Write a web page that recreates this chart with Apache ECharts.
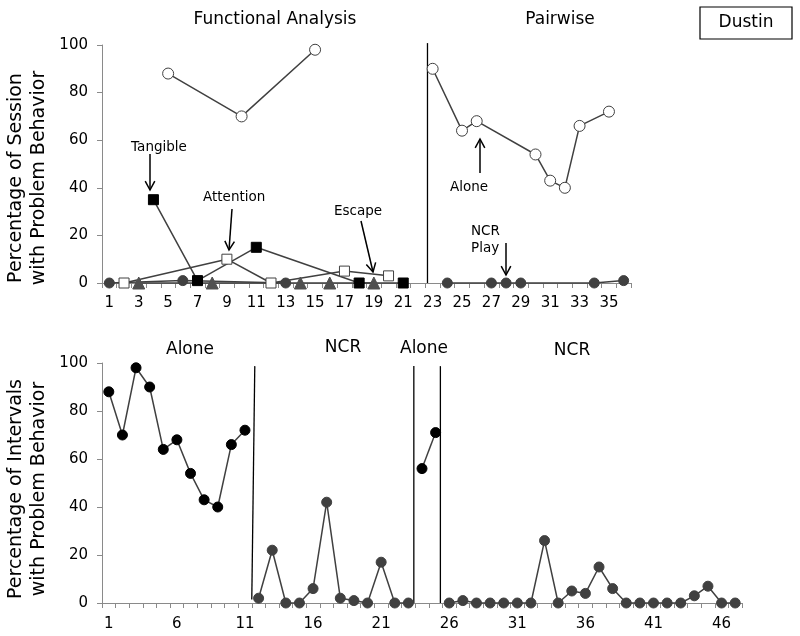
<!DOCTYPE html>
<html><head><meta charset="utf-8">
<script src="https://cdn.jsdelivr.net/npm/echarts@6/dist/echarts.min.js"></script>
<style>html,body{margin:0;padding:0;background:#fff}#c{width:800px;height:636px}</style>
</head><body><div id="c"></div>
<script>
// ---------- DATA ----------
// Top panel: Functional Analysis (sessions 1-21) and Pairwise (23-36)
const topSessionCount = 36;
const topCategories = Array.from({length: topSessionCount}, (_, i) => String(i + 1));
const aloneFASessions = [5, 10, 15];
const aloneFAValues   = [88, 70, 98];
const alonePWSessions = [23, 25, 26, 30, 31, 32, 33, 35];
const alonePWValues   = [90, 64, 68, 54, 43, 40, 66, 72];
const playFASessions  = [1, 6, 13];
const playFAValues    = [0, 1, 0];
const ncrPlaySessions = [24, 27, 28, 29, 34, 36];
const ncrPlayValues   = [0, 0, 0, 0, 0, 1];
const attentionSessions = [2, 9, 12, 17, 20];
const attentionValues   = [0, 10, 0, 5, 3];
const tangibleSessions  = [4, 7, 11, 18, 21];
const tangibleValues    = [35, 1, 15, 0, 0];
const escapeSessions    = [3, 8, 14, 16, 19];
const escapeValues      = [0, 0, 0, 0, 0];
const topPhaseChange    = 22.65;

// Bottom panel: Alone / NCR / Alone / NCR (sessions 1-47)
const bottomSessionCount = 47;
const bottomCategories = Array.from({length: bottomSessionCount}, (_, i) => String(i + 1));
const alone1Sessions = [1, 2, 3, 4, 5, 6, 7, 8, 9, 10, 11];
const alone1Values   = [88, 70, 98, 90, 64, 68, 54, 43, 40, 66, 72];
const ncr1Sessions   = [12, 13, 14, 15, 16, 17, 18, 19, 20, 21, 22, 23];
const ncr1Values     = [2, 22, 0, 0, 6, 42, 2, 1, 0, 17, 0, 0];
const alone2Sessions = [24, 25];
const alone2Values   = [56, 71];
const ncr2Sessions   = [26, 27, 28, 29, 30, 31, 32, 33, 34, 35, 36, 37, 38, 39, 40, 41, 42, 43, 44, 45, 46, 47];
const ncr2Values     = [0, 1, 0, 0, 0, 0, 0, 26, 0, 5, 4, 15, 6, 0, 0, 0, 0, 0, 3, 7, 0, 0];
const bottomPhaseLines = [[11.5, 1.5, 11.72, 98.7], [23.4, 0, 23.4, 98.7], [25.35, 0, 25.35, 98.7]];

// ---------- CHART ----------
const FONT = 'DejaVu Sans';
const LINE = '#404040';
const pairs = (s, v) => s.map((x, i) => [x, v[i]]);

function catAxis(grid, cats, labelInterval, margin) {
  return {
    type: 'category', gridIndex: grid, data: cats, boundaryGap: true,
    axisLine: {show: true, lineStyle: {color: '#8a8a8a', width: 1}},
    axisTick: {show: true, interval: 0, length: 5, inside: false, lineStyle: {color: '#8a8a8a'}},
    axisLabel: {interval: labelInterval, margin: margin, color: '#000', fontFamily: FONT, fontSize: 15},
    splitLine: {show: false}
  };
}
function valXAxis(grid, n) {
  return {type: 'value', gridIndex: grid, min: 0.5, max: n + 0.5, show: false, splitLine: {show: false}};
}
function yAxis(grid) {
  return {
    type: 'value', gridIndex: grid, min: 0, max: 100, interval: 20,
    axisLine: {show: true, lineStyle: {color: '#8a8a8a'}},
    axisTick: {show: true, length: 5, lineStyle: {color: '#8a8a8a'}},
    axisLabel: {margin: 14, color: '#000', fontFamily: FONT, fontSize: 15},
    splitLine: {show: false}
  };
}
function dataSeries(x, y, data, symbol, size, fill, border) {
  return {
    type: 'line', xAxisIndex: x, yAxisIndex: y, data: data,
    symbol: symbol, symbolSize: size, showSymbol: true, animation: false,
    lineStyle: {color: LINE, width: 1.5},
    itemStyle: {color: fill, borderColor: border || fill, borderWidth: 1},
    z: 3, clip: false
  };
}
function phaseSeries(x, y, x1, y1, x2, y2) {
  return {
    type: 'line', xAxisIndex: x, yAxisIndex: y, data: [[x1, y1], [x2, y2]],
    symbol: 'none', lineStyle: {color: '#000', width: 1.3}, clip: false, z: 2, animation: false
  };
}

const series = [
  phaseSeries(2, 0, topPhaseChange, 0, topPhaseChange, 100.8),
  dataSeries(2, 0, pairs(escapeSessions, escapeValues), 'triangle', 12, '#505050'),
  dataSeries(2, 0, pairs(playFASessions, playFAValues), 'circle', 10, '#404040'),
  dataSeries(2, 0, pairs(ncrPlaySessions, ncrPlayValues), 'circle', 10, '#404040'),
  dataSeries(2, 0, pairs(tangibleSessions, tangibleValues), 'rect', 10, '#000'),
  dataSeries(2, 0, pairs(attentionSessions, attentionValues), 'rect', 10, '#fff', '#404040'),
  dataSeries(2, 0, pairs(aloneFASessions, aloneFAValues), 'circle', 11, '#fff', '#404040'),
  dataSeries(2, 0, pairs(alonePWSessions, alonePWValues), 'circle', 11, '#fff', '#404040'),
  dataSeries(3, 1, pairs(alone1Sessions, alone1Values), 'circle', 10, '#000'),
  dataSeries(3, 1, pairs(ncr1Sessions, ncr1Values), 'circle', 10, '#404040'),
  dataSeries(3, 1, pairs(alone2Sessions, alone2Values), 'circle', 10, '#000'),
  dataSeries(3, 1, pairs(ncr2Sessions, ncr2Values), 'circle', 10, '#404040')
];
bottomPhaseLines.forEach(p => series.push(phaseSeries(3, 1, p[0], p[1], p[2], p[3])));

function txt(x, y, text, size, align) {
  return {type: 'text', x: x, y: y, style: {text: text, fill: '#000', font: size + 'px "' + FONT + '"',
    align: align || 'center', verticalAlign: 'middle'}, z: 10};
}
function arrow(x1, y1, x2, y2) {
  const a = Math.atan2(y2 - y1, x2 - x1), L = 10, w = 0.5;
  return {type: 'group', z: 10, children: [
    {type: 'line', shape: {x1: x1, y1: y1, x2: x2, y2: y2}, style: {stroke: '#000', lineWidth: 1.5}},
    {type: 'polyline', shape: {points: [
      [x2 - L * Math.cos(a - w), y2 - L * Math.sin(a - w)], [x2, y2],
      [x2 - L * Math.cos(a + w), y2 - L * Math.sin(a + w)]]}, style: {stroke: '#000', lineWidth: 1.5, fill: null}}
  ]};
}
function vtitle(x, y, text) {
  return {type: 'text', x: x, y: y, rotation: Math.PI / 2,
    style: {text: text, fill: '#000', font: '19px "' + FONT + '"', align: 'center', verticalAlign: 'middle', lineHeight: 23}};
}

const graphic = [
  txt(275, 20, 'Functional Analysis', 17),
  txt(560, 20, 'Pairwise', 17),
  {type: 'rect', shape: {x: 700, y: 7, width: 92, height: 32}, style: {stroke: '#000', fill: '#fff', lineWidth: 1.2}},
  txt(746, 23, 'Dustin', 17),
  txt(159, 147, 'Tangible', 13.5),
  arrow(150, 154, 150, 190),
  txt(203, 197, 'Attention', 13.5, 'left'),
  arrow(232, 209, 229, 250),
  txt(358, 211, 'Escape', 13.5),
  arrow(361, 221, 373, 272),
  txt(469, 187, 'Alone', 13.5),
  arrow(480, 173, 480, 139),
  txt(471, 231, 'NCR', 13.5, 'left'),
  txt(471, 248, 'Play', 13.5, 'left'),
  arrow(506, 243, 506, 275),
  txt(190, 350, 'Alone', 17),
  txt(343, 348, 'NCR', 17),
  txt(424, 349, 'Alone', 17),
  txt(572, 351, 'NCR', 17),
  vtitle(28, 178, 'Percentage of Session\nwith Problem Behavior'),
  vtitle(28, 489, 'Percentage of Intervals\nwith Problem Behavior')
];

const chart = echarts.init(document.getElementById('c'), null, {renderer: 'canvas'});
chart.setOption({
  backgroundColor: '#fff',
  animation: false,
  textStyle: {fontFamily: FONT},
  grid: [
    {left: 102, top: 45, width: 529, height: 238, containLabel: false, outerBoundsMode: 'none'},
    {left: 102, top: 363, width: 640, height: 240, containLabel: false, outerBoundsMode: 'none'}
  ],
  xAxis: [catAxis(0, topCategories, 1, 13), catAxis(1, bottomCategories, 4, 14),
          valXAxis(0, topSessionCount), valXAxis(1, bottomSessionCount)],
  yAxis: [yAxis(0), yAxis(1)],
  series: series,
  graphic: graphic
});
</script></body></html>
